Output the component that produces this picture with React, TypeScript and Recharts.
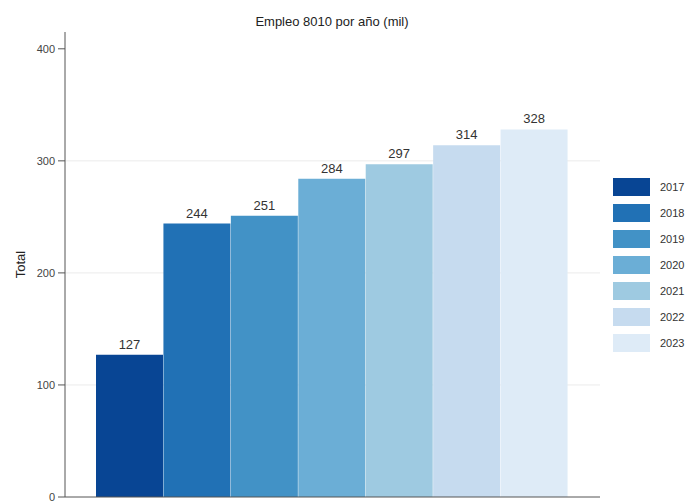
import React from 'react';
import {
  BarChart,
  Bar,
  XAxis,
  YAxis,
  CartesianGrid,
  Cell,
  LabelList,
} from 'recharts';

const years = ['2017', '2018', '2019', '2020', '2021', '2022', '2023'];
const totals = [127, 244, 251, 284, 297, 314, 328];
const yTicks = [0, 100, 200, 300, 400];
const gridValues = [100, 200, 300];

const COLORS = ['#084594', '#2171b5', '#4292c6', '#6baed6', '#9ecae1', '#c6dbef', '#deebf7'];

const FONT = '"Liberation Sans", Arial, sans-serif';

const chartData = years.map((year, i) => ({ year, total: totals[i] }));

// legend kept outside the chart so it doesn't steal plot space
function YearLegend() {
  return (
    <div style={{ position: 'absolute', left: 613, top: 174, width: 73, fontFamily: FONT }}>
      {years.map((year, i) => (
        <div key={year} style={{ display: 'flex', alignItems: 'center', height: 26 }}>
          <div style={{ width: 37, height: 18, background: COLORS[i], flexShrink: 0 }} />
          <span style={{ marginLeft: 10, fontSize: 11, color: '#333', whiteSpace: 'nowrap' }}>
            {year}
          </span>
        </div>
      ))}
    </div>
  );
}

export default function App() {
  return (
    <div
      style={{
        position: 'absolute',
        left: 0,
        top: 0,
        width: 686,
        height: 502,
        overflow: 'hidden',
        fontFamily: FONT,
      }}
    >
      <div
        style={{
          position: 'absolute',
          top: 14,
          left: 0,
          width: 664,
          textAlign: 'center',
          fontSize: 13,
          color: '#222',
          lineHeight: '15px',
        }}
      >
        Empleo 8010 por año (mil)
      </div>
      <BarChart
        width={686}
        height={502}
        data={chartData}
        margin={{ top: 32, right: 86, left: 0, bottom: 0 }}
        barCategoryGap={0}
      >
        <CartesianGrid vertical={false} horizontalValues={gridValues} stroke="#ebebeb" />
        <XAxis
          dataKey="year"
          tick={false}
          tickLine={false}
          height={5}
          padding={{ left: 31, right: 32 }}
          axisLine={{ stroke: '#555' }}
        />
        <YAxis
          width={65}
          domain={[0, 415]}
          ticks={yTicks}
          interval={0}
          tickSize={7}
          tickMargin={3}
          axisLine={{ stroke: '#555' }}
          tickLine={{ stroke: '#555' }}
          tick={{ fontSize: 11, fill: '#444', fontFamily: FONT }}
          label={{
            value: 'Total',
            angle: -90,
            position: 'center',
            dx: -12,
            style: { fontSize: 13, fill: '#222', fontFamily: FONT },
          }}
        />
        <Bar dataKey="total" isAnimationActive={false}>
          {chartData.map((entry, index) => (
            <Cell key={`cell-${index}`} fill={COLORS[index % COLORS.length]} />
          ))}
          <LabelList
            dataKey="total"
            position="top"
            offset={6}
            style={{ fontSize: 13, fill: '#333', fontFamily: FONT }}
          />
        </Bar>
      </BarChart>
      <YearLegend />
    </div>
  );
}
